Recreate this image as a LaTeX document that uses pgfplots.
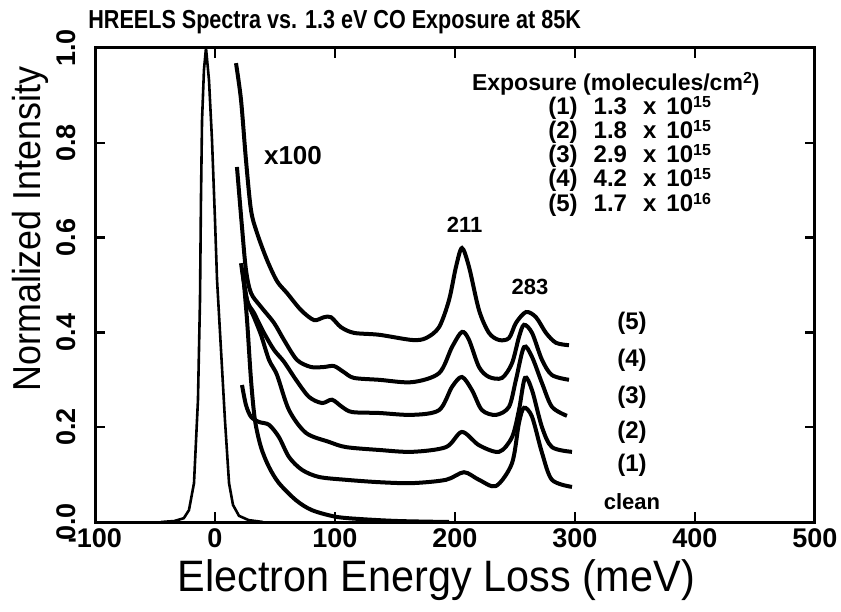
\documentclass[border=0pt]{standalone}
\usepackage{fontspec}
\setmainfont{Liberation Sans}
\usepackage{pgfplots}
\pgfplotsset{compat=1.18}
\newcommand{\sps}[1]{\raisebox{0.55ex}{\fontsize{8}{8}\selectfont #1}}
\begin{document}
\begin{tikzpicture}
\useasboundingbox (0,0) rectangle (420.5pt,305.5pt);
\begin{axis}[
  at={(47.5pt,44.5pt)}, anchor=south west,
  scale only axis, width=360pt, height=237pt,
  xmin=-100, xmax=500, ymin=0, ymax=1,
  xtick={-100,0,100,200,300,400,500},
  xticklabels={-100,0,100,200,300,400,500},
  ytick={0,0.2,0.4,0.6,0.8,1.0},
  yticklabels={0.0,0.2,0.4,0.6,0.8,1.0},
  tick align=inside, major tick length=5pt,
  tick style={line width=1.2pt, black},
  axis line style={line width=1.5pt},
  ticklabel style={font=\fontsize{13.5}{15}\selectfont\bfseries},
  yticklabel style={rotate=90, anchor=south},
  yticklabel shift=6pt,
  clip=false,
]
% elastic peak (unscaled)
\addplot[black, line width=1.3pt, line join=round] coordinates {
(-45,0) (-34,0.002) (-26,0.008) (-21.7,0.025) (-17.5,0.082) (-14.2,0.257)
(-12.5,0.468) (-11.7,0.679) (-10.8,0.848) (-9.2,0.954) (-7.5,1.0) (-5,0.932)
(-2.5,0.806) (0,0.637) (1.7,0.511) (5,0.363) (8.3,0.215) (11.7,0.082)
(15,0.036) (20,0.013) (28,0.004) (40,0)};
% clean x100
\addplot[black, line width=2pt, smooth, tension=0.5] coordinates {
(23.3,0.527) (26.7,0.426) (30.0,0.300) (33.3,0.215) (38.3,0.158) (45.0,0.116)
(53.3,0.082) (67.5,0.046) (80.8,0.025) (100.8,0.011) (122.5,0.006) (153.3,0.002) (195,0)};
% (1)
\addplot[black, line width=2pt, smooth, tension=0.5] coordinates {
(22.5,0.289) (25.8,0.247) (30.0,0.222) (36.7,0.211) (45.0,0.205) (53.3,0.179)
(61.7,0.137) (72.5,0.110) (86.7,0.095) (109.2,0.089) (136.7,0.084) (164.2,0.082)
(192.5,0.089) (207.5,0.105) (220.0,0.089) (234.2,0.076) (247.5,0.124) (253.3,0.209)
(257.5,0.241) (264.2,0.222) (272.5,0.146) (280.8,0.089) (297.5,0.074)};
% (2)
\addplot[black, line width=2pt, smooth, tension=0.5] coordinates {
(22.5,0.536) (26.7,0.468) (32.5,0.432) (38.3,0.395) (45.0,0.342) (51.7,0.310)
(61.7,0.236) (75.8,0.188) (95.0,0.169) (109.2,0.158) (136.7,0.152) (164.2,0.148)
(192.5,0.158) (205.8,0.190) (220.0,0.162) (236.7,0.148) (247.5,0.179) (253.3,0.236)
(258.3,0.304) (264.2,0.278) (272.5,0.200) (280.8,0.158) (297.5,0.148)};
% (3)
\addplot[black, line width=2pt, smooth, tension=0.5] coordinates {
(21.7,0.546) (26.7,0.468) (32.5,0.441) (40.8,0.399) (49.2,0.363) (57.5,0.338)
(67.5,0.300) (78.3,0.264) (89.2,0.251) (97.5,0.258) (105.8,0.243) (114.2,0.232)
(136.7,0.230) (164.2,0.226) (186.7,0.236) (197.5,0.285) (205.8,0.306) (214.2,0.278)
(222.5,0.236) (234.2,0.226) (245.0,0.243) (250.8,0.300) (257.5,0.369) (264.2,0.348)
(272.5,0.293) (280.8,0.243) (293.3,0.224)};
% (4)
\addplot[black, line width=2pt, smooth, tension=0.5] coordinates {
(18.3,0.749) (22.5,0.622) (25.8,0.532) (30.0,0.483) (38.3,0.454) (49.2,0.420)
(57.5,0.384) (68.3,0.342) (80.0,0.327) (90.8,0.327) (99.2,0.329) (107.5,0.316)
(115.8,0.304) (136.7,0.300) (164.2,0.295) (186.7,0.314) (197.5,0.369) (205.8,0.401)
(211.7,0.384) (220.0,0.327) (228.3,0.306) (239.2,0.304) (247.5,0.335) (253.3,0.390)
(257.5,0.416) (264.2,0.399) (272.5,0.342) (280.8,0.310) (295.0,0.300)};
% (5)
\addplot[black, line width=2pt, smooth, tension=0.5] coordinates {
(17.5,0.968) (21.7,0.890) (25.8,0.764) (30.0,0.658) (35.0,0.610) (43.3,0.553)
(51.7,0.508) (60.0,0.483) (71.7,0.447) (82.5,0.426) (90.8,0.432) (96.7,0.432)
(105.0,0.411) (115.8,0.399) (136.7,0.395) (164.2,0.384) (175.8,0.388) (186.7,0.411)
(195.0,0.468) (200.8,0.538) (205.8,0.578) (211.7,0.538) (220.0,0.447) (228.3,0.399)
(236.7,0.384) (245.0,0.388) (250.8,0.420) (259.2,0.443) (267.5,0.432) (275.8,0.399)
(284.2,0.378) (295.0,0.373)};
% texts
\node[anchor=west, inner sep=0pt, font=\fontsize{13}{15}\selectfont\bfseries]
  at (rel axis cs:-0.0097,1.055) {\scalebox{0.83}[1]{HREELS Spectra vs. 1.3 eV CO Exposure at 85K}};
\node[font=\fontsize{22}{26}\selectfont] at (rel axis cs:0.474,-0.122)
  {\scalebox{0.94}[1]{Electron Energy Loss (meV)}};
\node[rotate=90, font=\fontsize{19.5}{23}\selectfont] at (rel axis cs:-0.090,0.618)
  {\scalebox{0.92}[1]{Normalized Intensity}};
\node[font=\fontsize{13}{15}\selectfont\bfseries] at (axis cs:65,0.774) {x100};
\node[font=\fontsize{11}{13}\selectfont\bfseries] at (axis cs:208,0.627) {211};
\node[font=\fontsize{11}{13}\selectfont\bfseries] at (axis cs:262.5,0.496) {283};
\node[font=\fontsize{11.5}{13}\selectfont\bfseries] at (axis cs:334,0.925) {Exposure (molecules/cm\sps{2})};
\begin{scope}[every node/.style={anchor=west, inner sep=0pt, font=\fontsize{12}{14}\selectfont\bfseries}]
\node at (axis cs:277.5,0.873) {(1)\hspace{8pt}1.3\hspace{8pt}x\hspace{5pt}10\sps{15}};
\node at (axis cs:277.5,0.823) {(2)\hspace{8pt}1.8\hspace{8pt}x\hspace{5pt}10\sps{15}};
\node at (axis cs:277.5,0.772) {(3)\hspace{8pt}2.9\hspace{8pt}x\hspace{5pt}10\sps{15}};
\node at (axis cs:277.5,0.722) {(4)\hspace{8pt}4.2\hspace{8pt}x\hspace{5pt}10\sps{15}};
\node at (axis cs:277.5,0.669) {(5)\hspace{8pt}1.7\hspace{8pt}x\hspace{5pt}10\sps{16}};
\end{scope}
\begin{scope}[every node/.style={font=\fontsize{12}{14}\selectfont\bfseries}]
\node at (axis cs:347.5,0.420) {(5)};
\node at (axis cs:347.5,0.342) {(4)};
\node at (axis cs:347.5,0.264) {(3)};
\node at (axis cs:347.5,0.190) {(2)};
\node at (axis cs:347.5,0.120) {(1)};
\node[font=\fontsize{11}{13}\selectfont\bfseries] at (axis cs:347.5,0.042) {clean};
\end{scope}
\end{axis}
\end{tikzpicture}
\end{document}
